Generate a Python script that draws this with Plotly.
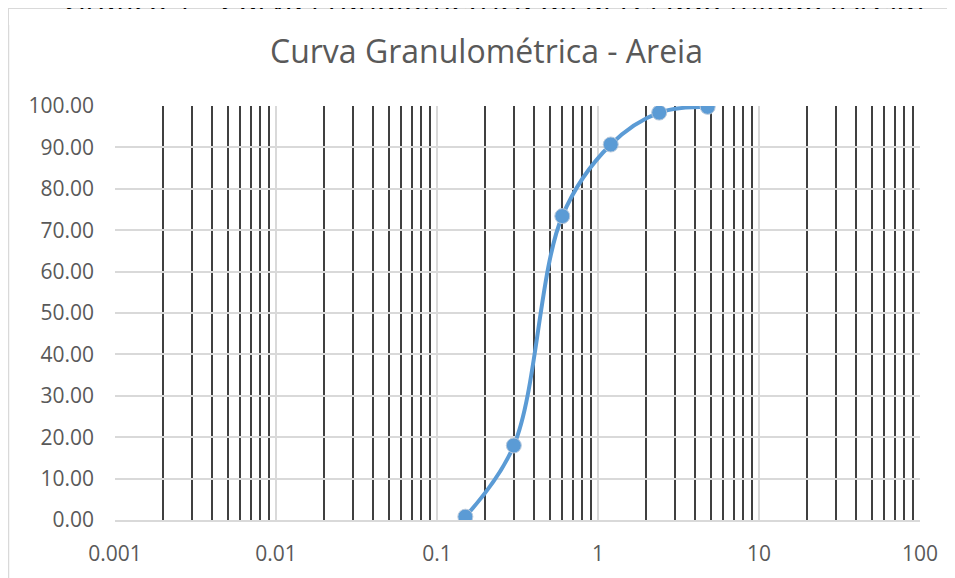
import plotly.graph_objects as go

# Sieve openings (mm) and cumulative % passing
abertura_mm = [0.15, 0.3, 0.6, 1.2, 2.4, 4.8]
passante_pct = [0.8, 18.0, 73.4, 90.7, 98.4, 99.8]

x_ticks = [0.001, 0.01, 0.1, 1, 10, 100]
x_tick_labels = ["0.001", "0.01", "0.1", "1", "10", "100"]
y_ticks = [0, 10, 20, 30, 40, 50, 60, 70, 80, 90, 100]

title_text = "Curva Granulométrica - Areia"
caption_text = "Gráfico 1 - Curva granulométrica do agregado miúdo (Areia)"

FONT = "Open Sans"
GRAY = "#595959"

fig = go.Figure()
fig.add_trace(go.Scatter(
    x=abertura_mm, y=passante_pct,
    mode="lines+markers",
    line=dict(color="#5B9BD5", width=4, shape="spline", smoothing=1.0),
    marker=dict(size=15, color="#5B9BD5", line=dict(color="#B8C9DC", width=1)),
    showlegend=False,
))

fig.update_layout(
    width=955, height=578,
    margin=dict(l=107, r=43, t=98, b=66),
    paper_bgcolor="white", plot_bgcolor="white",
    font=dict(family=FONT, color=GRAY, size=21),
    xaxis=dict(
        type="log", range=[-3, 2],
        tickvals=x_ticks, ticktext=x_tick_labels,
        showgrid=True, gridcolor="#D9D9D9", gridwidth=1.8,
        minor=dict(showgrid=True, gridcolor="#404040", gridwidth=1.6, dtick="D1", ticks=""),
        showline=True, linecolor="#D9D9D9", linewidth=1.8,
        ticks="", ticklabelstandoff=14,
        tickfont=dict(family=FONT, size=21, color=GRAY),
        zeroline=False,
    ),
    yaxis=dict(
        range=[0, 100], tickvals=y_ticks,
        tickformat=".2f",
        showgrid=True, gridcolor="#D9D9D9", gridwidth=1.8,
        showline=False, zeroline=False,
        ticks="", ticklabelstandoff=20,
        tickfont=dict(family=FONT, size=21, color=GRAY),
    ),
)

# document caption above the chart (partly hidden behind the chart frame)
fig.add_annotation(
    text=caption_text, xref="paper", yref="paper",
    x=0.47, y=1.2029, xanchor="center", yanchor="bottom", borderpad=0,
    showarrow=False, font=dict(family=FONT, size=31, color="#000000"),
)
# white chart background covering the lower part of the caption
fig.add_annotation(
    text=" ", xref="paper", yref="paper",
    x=-0.1317, y=1.2343, xanchor="left", yanchor="top",
    width=1000, height=16, bgcolor="white", borderpad=0, borderwidth=0,
    showarrow=False,
)
fig.add_annotation(
    text=title_text, xref="paper", yref="paper",
    x=0.462, y=1.133, xanchor="center", yanchor="middle",
    showarrow=False, font=dict(family=FONT, size=32, color=GRAY),
)

fig.add_shape(
    type="rect", xref="paper", yref="paper",
    x0=-0.1323, x1=1.2, y0=-0.3, y1=1.2355,
    line=dict(color="#D9D9D9", width=1.5), layer="below",
)

fig.write_html("out.html")
